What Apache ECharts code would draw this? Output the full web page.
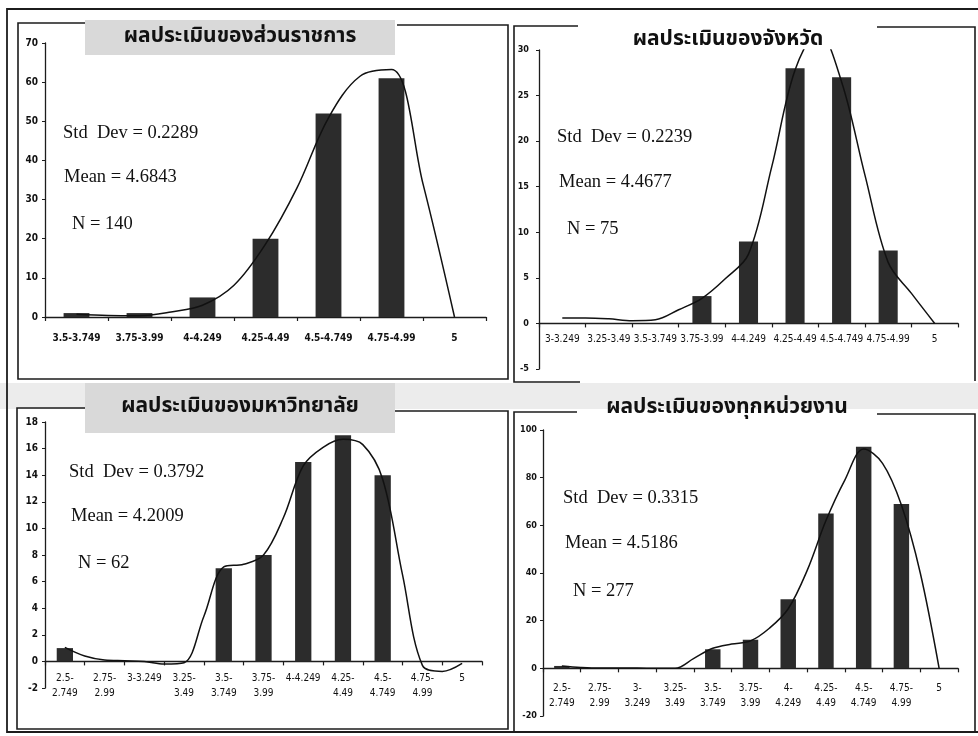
<!DOCTYPE html>
<html>
<head>
<meta charset="utf-8">
<script src="https://cdn.jsdelivr.net/npm/echarts@6/dist/echarts.min.js"></script>
<style>
  html, body { margin: 0; padding: 0; background: #fff; }
  #chart { width: 978px; height: 736px; }
</style>
</head>
<body>
<div id="chart"></div>
<script>
// ---- data ----
const titles = ['ผลประเมินของส่วนราชการ', 'ผลประเมินของจังหวัด', 'ผลประเมินของมหาวิทยาลัย', 'ผลประเมินของทุกหน่วยงาน'];

const cats1 = ['3.5-3.749', '3.75-3.99', '4-4.249', '4.25-4.49', '4.5-4.749', '4.75-4.99', '5'];
const counts1 = [1, 1, 5, 20, 52, 61, 0];
// fitted curve, sampled every half category
const curve1 = [0.7, 0.4, 0.35, 1.3, 3.0, 8.1, 18.6, 33, 50.9, 61.5, 63.2, 34, 0];

const cats2 = ['3-3.249', '3.25-3.49', '3.5-3.749', '3.75-3.99', '4-4.249', '4.25-4.49', '4.5-4.749', '4.75-4.99', '5'];
const counts2 = [0, 0, 0, 3, 9, 28, 27, 8, 0];
const curve2 = [0.6, 0.6, 0.5, 0.3, 0.4, 1.5, 2.75, 4.9, 7.6, 17.2, 27.8, 32, 26.5, 16.3, 6.7, 3.3, 0];

const cats3 = ['2.5-\n2.749', '2.75-\n2.99', '3-3.249', '3.25-\n3.49', '3.5-\n3.749', '3.75-\n3.99', '4-4.249', '4.25-\n4.49', '4.5-\n4.749', '4.75-\n4.99', '5'];
const counts3 = [1, 0, 0, 0, 7, 8, 15, 17, 14, 0, 0];
const curve3 = [1.05, 0.4, 0.1, 0.05, 0, -0.2, -0.1, 3.4, 7.1, 7.3, 8.0, 10.8, 14.7, 16.1, 16.7, 16.3, 13.7, 6.5, -0.3, -0.75, -0.15];

const cats4 = ['2.5-\n2.749', '2.75-\n2.99', '3-\n3.249', '3.25-\n3.49', '3.5-\n3.749', '3.75-\n3.99', '4-\n4.249', '4.25-\n4.49', '4.5-\n4.749', '4.75-\n4.99', '5'];
const counts4 = [1, 0, 0, 0, 8, 12, 29, 65, 93, 69, 0];
const curve4 = [1.0, 0.4, 0.1, 0.1, 0.1, 0, 0, 4.2, 8.4, 10.2, 11.5, 16.8, 25, 41, 62, 79, 92, 86, 68.5, 40, 0];

const stdDevs = ['0.2289', '0.2239', '0.3792', '0.3315'];
const means = ['4.6843', '4.4677', '4.2009', '4.5186'];
const ns = ['140', '75', '62', '277'];

const yMins = [0, -5, -2, -20];
const yMaxs = [70, 30, 18, 100];
const yIntervals = [10, 5, 2, 20];

// ---- layout / style ----
const ink = '#1c1c1c';
const barColor = '#2c2c2c';
const narrow = '"Liberation Sans Narrow", "DejaVu Sans Condensed", "Arial Narrow", sans-serif';
const serif = '"Liberation Serif", "Times New Roman", serif';
const thai = '"Noto Sans Thai", "Noto Sans", "DejaVu Sans", sans-serif';

const panels = [
    { cats: cats1, counts: counts1, curve: curve1, grid: { left: 45, top: 43, width: 441, height: 274 },
      xLabel: { fontSize: 10, fontWeight: 'bold', margin: 16 }, yLabel: { margin: 7, fontWeight: 'bold' },
      stats: [63, 133, 64, 177, 72, 224], title: [240, 38] },
    { cats: cats2, counts: counts2, curve: curve2, grid: { left: 539, top: 50, width: 419, height: 319 },
      xLabel: { fontSize: 10, margin: 11 }, yLabel: { margin: 10, fontWeight: 'bold', fontSize: 9 },
      stats: [557, 137, 559, 182, 567, 229], title: [728, 41] },
    { cats: cats3, counts: counts3, curve: curve3, grid: { left: 45, top: 422, width: 437, height: 266 },
      xLabel: { fontSize: 10, margin: 10, lineHeight: 15 }, yLabel: { margin: 7, fontWeight: 'bold' },
      stats: [69, 472, 71, 516, 78, 563], title: [240, 408] },
    { cats: cats4, counts: counts4, curve: curve4, grid: { left: 543, top: 430, width: 415, height: 286 },
      xLabel: { fontSize: 10, margin: 13, lineHeight: 15 }, yLabel: { margin: 6, fontWeight: 'bold', fontSize: 9 },
      stats: [563, 498, 565, 543, 573, 591], title: [727, 409] }
];

const grids = panels.map(p => Object.assign({ outerBoundsMode: 'none', containLabel: false }, p.grid));

// category axis sits on the zero line: shift it up from the grid bottom
function zeroOffset(p, i) {
    return -p.grid.height * (0 - yMins[i]) / (yMaxs[i] - yMins[i]);
}

const xAxes = panels.map((p, i) => ({
    type: 'category',
    gridIndex: i,
    data: p.cats,
    position: 'bottom',
    offset: zeroOffset(p, i),
    axisLine: { onZero: false, lineStyle: { color: ink, width: 1.3 } },
    axisTick: { show: true, length: 4, lineStyle: { color: ink, width: 1.2 } },
    axisLabel: Object.assign({ interval: 0, color: '#111', fontFamily: narrow }, p.xLabel),
    splitLine: { show: false }
})).concat(panels.map((p, i) => ({
    // hidden numeric axis carrying the fitted curve (unit = one category)
    type: 'value',
    gridIndex: i,
    min: -0.5,
    max: p.cats.length - 0.5,
    show: false,
    axisLine: { onZero: false }
})));

const yAxes = panels.map((p, i) => ({
    type: 'value',
    gridIndex: i,
    min: yMins[i],
    max: yMaxs[i],
    interval: yIntervals[i],
    axisLine: { show: true, onZero: false, lineStyle: { color: ink, width: 1.3 } },
    axisTick: { show: true, length: 3, lineStyle: { color: ink } },
    axisLabel: Object.assign({ color: '#111', fontFamily: narrow, fontSize: 10 }, p.yLabel),
    splitLine: { show: false }
}));

const series = [];
panels.forEach((p, i) => {
    series.push({
        type: 'bar',
        xAxisIndex: i,
        yAxisIndex: i,
        data: p.counts,
        barWidth: '41%',
        itemStyle: { color: barColor },
        z: 2
    });
    series.push({
        type: 'line',
        xAxisIndex: 4 + i,
        yAxisIndex: i,
        data: p.curve.map((v, k) => [k * 0.5, v]),
        smooth: 0.35,
        showSymbol: false,
        symbol: 'none',
        lineStyle: { color: '#111', width: 1.5 },
        clip: true,
        z: 3
    });
});

function frame(points, w) {
    return { type: 'polyline', shape: { points: points }, style: { stroke: ink, lineWidth: w || 1.6, fill: null }, z: 1 };
}

function label(x, y, text, font, align) {
    return {
        type: 'text', x: x, y: y, z: 10,
        style: { text: text, font: font, fill: '#111', align: align || 'left', textAlign: align || 'left',
                 verticalAlign: 'middle', textVerticalAlign: 'middle' }
    };
}

const graphics = [
    { type: 'rect', shape: { x: 0, y: 383, width: 978, height: 26 }, style: { fill: '#ececec' }, z: 0 },
    { type: 'rect', shape: { x: 85, y: 20, width: 310, height: 35 }, style: { fill: '#d9d9d9' }, z: 0 },
    { type: 'rect', shape: { x: 85, y: 383, width: 310, height: 50 }, style: { fill: '#d9d9d9' }, z: 0 },
    frame([[978, 9], [7, 9], [7, 732], [978, 732]], 1.8),
    frame([[85, 23], [18, 23], [18, 379], [508, 379], [508, 25], [397, 25]]),
    frame([[578, 26], [514, 26], [514, 382], [580, 382]]),
    frame([[877, 27], [975, 27], [975, 381]]),
    frame([[85, 408], [17, 408], [17, 729], [508, 729], [508, 411], [395, 411]]),
    frame([[577, 412], [514, 412], [514, 731]]),
    frame([[877, 414], [975, 414], [975, 731]])
];

panels.forEach((p, i) => {
    const s = p.stats;
    graphics.push(label(p.title[0], p.title[1], titles[i], 'bold 21px ' + thai, 'center'));
    graphics.push(label(s[0], s[1], 'Std  Dev = ' + stdDevs[i], '18.5px ' + serif));
    graphics.push(label(s[2], s[3], 'Mean = ' + means[i], '18.5px ' + serif));
    graphics.push(label(s[4], s[5], 'N = ' + ns[i], '18.5px ' + serif));
});

const chart = echarts.init(document.getElementById('chart'));
chart.setOption({
    animation: false,
    backgroundColor: '#fff',
    grid: grids,
    xAxis: xAxes,
    yAxis: yAxes,
    series: series,
    graphic: { elements: graphics }
});
</script>
</body>
</html>
